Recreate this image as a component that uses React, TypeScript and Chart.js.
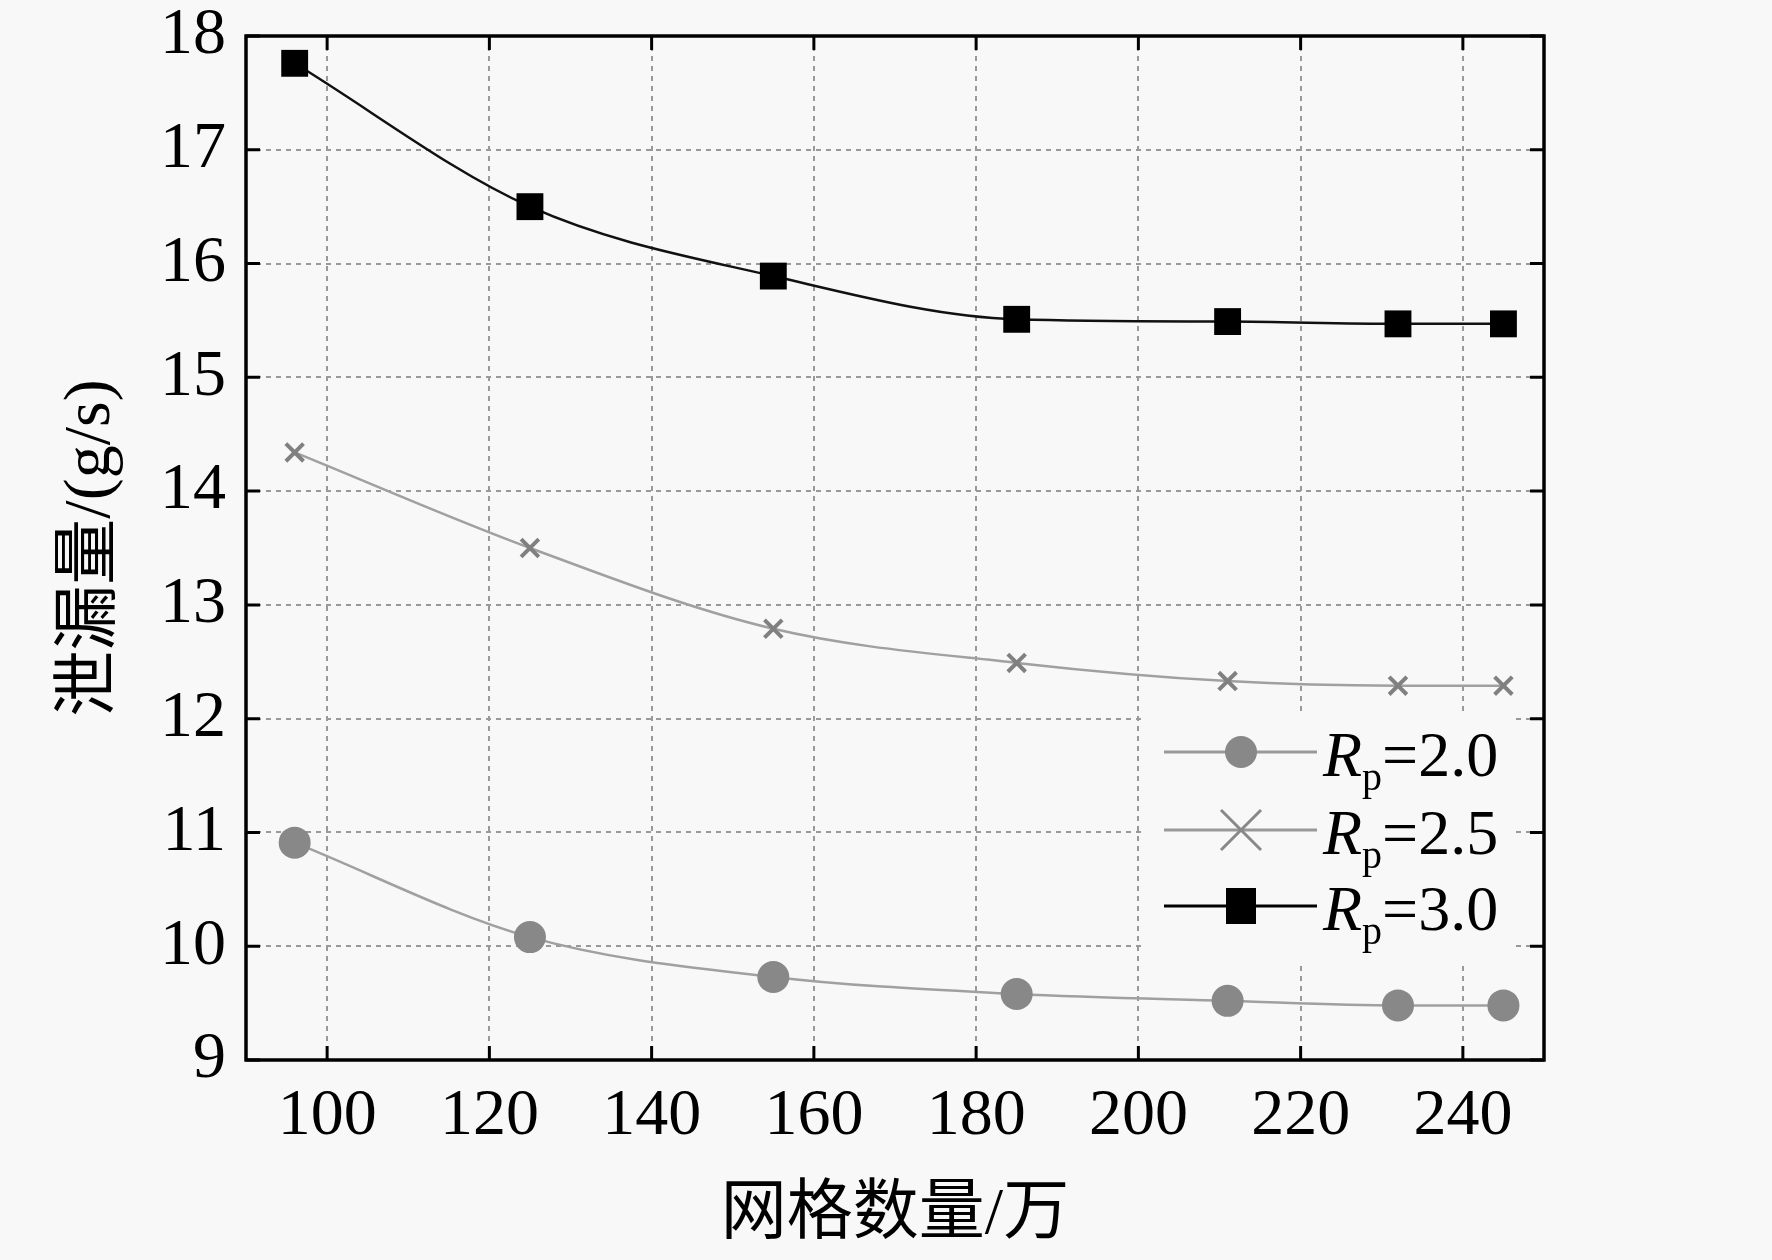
import { useEffect, useRef } from 'react';
import { Chart, registerables } from 'chart.js';

Chart.register(...registerables);

// 网格数量 (万) at which the leakage was computed
const meshCounts = [96, 125, 155, 185, 211, 232, 245];
// 泄漏量 (g/s) for each pressure ratio
const leakRp20 = [10.91, 10.08, 9.73, 9.58, 9.52, 9.48, 9.48];
const leakRp25 = [14.34, 13.5, 12.79, 12.49, 12.33, 12.29, 12.29];
const leakRp30 = [17.76, 16.5, 15.89, 15.51, 15.49, 15.47, 15.47];

const xTicks = [100, 120, 140, 160, 180, 200, 220, 240];
const yTicks = [9, 10, 11, 12, 13, 14, 15, 16, 17, 18];

const legendItems = [
  { value: '2.0', style: 'circle', color: '#888888', line: '#999999' },
  { value: '2.5', style: 'cross', color: '#888888', line: '#999999' },
  { value: '3.0', style: 'rect', color: '#000000', line: '#000000' },
];

const SERIF = '"Liberation Serif", "Times New Roman", "Noto Sans CJK SC", serif';
const BG = '#f8f8f8';

const toPoints = (ys: number[]) => meshCounts.map((x, i) => ({ x, y: ys[i] }));

const framePlugin = {
  id: 'frameAndLegend',
  beforeDraw(chart: any) {
    const { ctx, width, height } = chart;
    ctx.save();
    ctx.fillStyle = BG;
    ctx.fillRect(0, 0, width, height);
    ctx.restore();
  },
  afterDraw(chart: any) {
    const { ctx, chartArea: a, scales } = chart;
    const xs = scales.x;
    const ys = scales.y;
    ctx.save();

    // legend box (covers the grid)
    ctx.fillStyle = BG;
    ctx.fillRect(1143, 716, 372, 245);
    const rows = [752, 830, 906];
    legendItems.forEach((it, i) => {
      const y = rows[i];
      ctx.strokeStyle = it.line;
      ctx.lineWidth = 3;
      ctx.beginPath();
      ctx.moveTo(1164, y);
      ctx.lineTo(1317, y);
      ctx.stroke();
      const cx = 1241;
      ctx.fillStyle = it.color;
      ctx.strokeStyle = it.color;
      if (it.style === 'circle') {
        ctx.beginPath();
        ctx.arc(cx, y, 16, 0, Math.PI * 2);
        ctx.fill();
      } else if (it.style === 'cross') {
        ctx.lineWidth = 3;
        ctx.beginPath();
        ctx.moveTo(cx - 20, y - 20);
        ctx.lineTo(cx + 20, y + 20);
        ctx.moveTo(cx + 20, y - 20);
        ctx.lineTo(cx - 20, y + 20);
        ctx.stroke();
      } else {
        ctx.fillRect(cx - 15, y - 18, 30, 36);
      }
      ctx.fillStyle = '#000';
      ctx.textBaseline = 'alphabetic';
      ctx.textAlign = 'left';
      let tx = 1323;
      ctx.font = 'italic 64px ' + SERIF;
      ctx.fillText('R', tx, y + 24);
      tx += ctx.measureText('R').width;
      ctx.font = '40px ' + SERIF;
      ctx.fillText('p', tx, y + 38);
      tx += ctx.measureText('p').width;
      ctx.font = '64px ' + SERIF;
      ctx.fillText('=' + it.value, tx, y + 24);
    });

    // frame
    ctx.strokeStyle = '#000';
    ctx.lineWidth = 3.5;
    ctx.strokeRect(a.left, a.top, a.right - a.left, a.bottom - a.top);

    // inward ticks on all sides
    const tl = 14;
    ctx.lineWidth = 3;
    ctx.beginPath();
    xTicks.forEach((v) => {
      const px = xs.getPixelForValue(v);
      ctx.moveTo(px, a.bottom);
      ctx.lineTo(px, a.bottom - tl);
      ctx.moveTo(px, a.top);
      ctx.lineTo(px, a.top + tl);
    });
    yTicks.forEach((v) => {
      const py = ys.getPixelForValue(v);
      ctx.moveTo(a.left, py);
      ctx.lineTo(a.left + tl, py);
      ctx.moveTo(a.right, py);
      ctx.lineTo(a.right - tl, py);
    });
    ctx.stroke();
    ctx.restore();
  },
};

export default function App() {
  const canvasRef = useRef<HTMLCanvasElement>(null);
  const chartRef = useRef<Chart | null>(null);

  useEffect(() => {
    if (!canvasRef.current) return;
    chartRef.current?.destroy();

    const gridOpts = {
      color: '#999999',
      lineWidth: 2,
      drawTicks: false,
    };

    chartRef.current = new Chart(canvasRef.current, {
      type: 'line',
      data: {
        datasets: [
          {
            label: 'Rp=2.0',
            data: toPoints(leakRp20),
            borderColor: '#a0a0a0',
            borderWidth: 2.5,
            pointStyle: 'circle',
            pointRadius: 16,
            pointBackgroundColor: '#888888',
            pointBorderColor: '#888888',
            pointBorderWidth: 0,
            cubicInterpolationMode: 'monotone',
          },
          {
            label: 'Rp=2.5',
            data: toPoints(leakRp25),
            borderColor: '#a0a0a0',
            borderWidth: 2.5,
            pointStyle: 'crossRot',
            pointRadius: 12.5,
            pointBorderColor: '#808080',
            pointBorderWidth: 4,
            cubicInterpolationMode: 'monotone',
          },
          {
            label: 'Rp=3.0',
            data: toPoints(leakRp30),
            borderColor: '#111111',
            borderWidth: 2.5,
            pointStyle: 'rect',
            pointRadius: 19,
            pointBackgroundColor: '#000000',
            pointBorderColor: '#000000',
            pointBorderWidth: 0,
            cubicInterpolationMode: 'monotone',
          },
        ],
      },
      options: {
        animation: false,
        responsive: true,
        maintainAspectRatio: false,
        devicePixelRatio: 1,
        layout: { padding: { top: 36, right: 228, left: 0, bottom: 0 } },
        plugins: {
          legend: { display: false },
          tooltip: { enabled: false },
        },
        scales: {
          x: {
            type: 'linear',
            min: 90,
            max: 250,
            afterBuildTicks: (s: any) => {
              s.ticks = xTicks.map((value) => ({ value }));
            },
            afterFit: (s: any) => {
              s.height = 200;
              s.paddingLeft = 0;
              s.paddingRight = 0;
            },
            grid: gridOpts,
            border: { display: false, dash: [5, 5] },
            ticks: {
              color: '#000',
              padding: 24,
              autoSkip: false,
              maxRotation: 0,
              font: { family: SERIF, size: 66, lineHeight: 1 },
            },
            title: {
              display: true,
              text: '网格数量/万',
              color: '#000',
              font: { family: SERIF, size: 66, lineHeight: 1.2 },
              padding: { top: 0, bottom: 5 },
            },
          },
          y: {
            type: 'linear',
            min: 9,
            max: 18,
            afterBuildTicks: (s: any) => {
              s.ticks = yTicks.map((value) => ({ value }));
            },
            afterFit: (s: any) => {
              s.width = 246;
              s.paddingTop = 0;
              s.paddingBottom = 0;
            },
            grid: gridOpts,
            border: { display: false, dash: [5, 5] },
            ticks: {
              color: '#000',
              padding: 20,
              font: { family: SERIF, size: 66, lineHeight: 1 },
            },
            title: {
              display: true,
              text: '泄漏量/(g/s)',
              color: '#000',
              font: { family: SERIF, size: 66, lineHeight: 1.2 },
              padding: { top: 52, bottom: 0 },
            },
          },
        },
      },
      plugins: [framePlugin],
    } as any);

    return () => {
      chartRef.current?.destroy();
      chartRef.current = null;
    };
  }, []);

  return (
    <div style={{ position: 'fixed', left: 0, top: 0, width: 1772, height: 1260 }}>
      <canvas ref={canvasRef} />
    </div>
  );
}
